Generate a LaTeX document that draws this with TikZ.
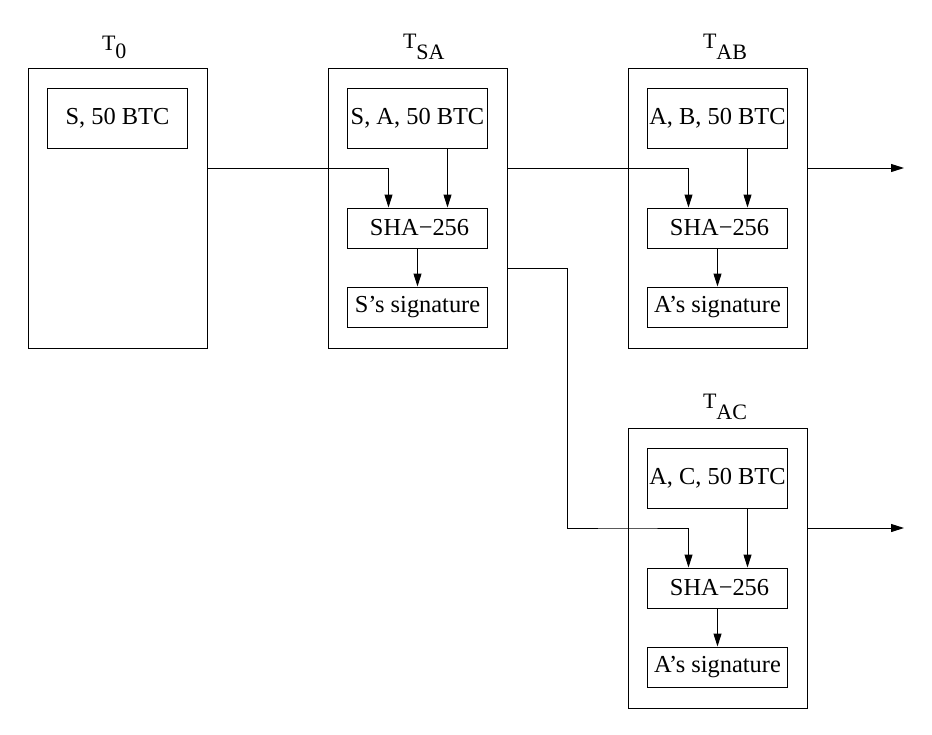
\documentclass[tikz,border=0pt]{standalone}
\usepackage{fontspec}
\setmainfont{Liberation Serif}
\usepackage{tikz}
\usetikzlibrary{arrows.meta,positioning}

\newcommand{\tname}[2][5.5pt]{\raisebox{#1}{\fontsize{11}{12}\selectfont T}{\fontsize{11}{12}\selectfont #2}}

\begin{document}
\begin{tikzpicture}[x=0.5pt, y=-0.5pt, node distance=1cm, on grid,
                    >={Triangle[length=6.5pt, width=4pt]},
                    every path/.style = {line width=0.5pt},
                    tx box/.style = {rectangle, draw=black, line width=0.5pt, minimum width=89.5pt, minimum height=140pt},
                    inner box/.style = {rectangle, draw=black, line width=0.5pt, inner sep=0.5pt, minimum width=70pt, font=\fontsize{12.2}{14}\selectfont},
                    coin box/.style = {inner box, minimum height=30pt},
                    hash box/.style = {inner box, minimum height=20pt},
                    tx name/.style = {anchor=base west, inner sep=0pt}]
                \useasboundingbox (0,0) rectangle (932,734);
                % genesis left
                \node at (117.5,208) [tx box] (t0) {};
                \node [tx name] at ([xshift=-8pt, yshift=4.5pt]t0.north) (t0name) {\tname[4.2pt]{0}};
                \node [coin box] at ([yshift=45pt]t0.center) (coin0) {S, 50 BTC};
                % S to A
                \node at (417.5,208) [tx box] (tsa) {};
                \node [tx name] at ([xshift=-7.5pt, yshift=4pt]tsa.north) (tsaname) {\tname{SA}};
                \node [coin box] at ([yshift=45pt]tsa.center) (coinsa) {S, A, 50 BTC};
                \node [hash box, below=55pt of coinsa] (hashsa) {\,SHA−256};
                \node [hash box, below=39.5pt of hashsa] (sigsa) {S’s signature};
                % A to B
                \node at (717.5,208) [tx box] (tab) {};
                \node [tx name] at ([xshift=-7.5pt, yshift=4pt]tab.north) (tabname) {\tname{AB}};
                \node [coin box] at ([yshift=45pt]tab.center) (coinab) {A, B, 50 BTC};
                \node [hash box, below=55pt of coinab] (hashab) {\,SHA−256};
                \node [hash box, below=39.5pt of hashab] (sigab) {A’s signature};
                % A to C, below
                \node at (717.5,568) [tx box] (tac) {};
                \node [tx name] at ([xshift=-7.5pt, yshift=4pt]tac.north) (tacname) {\tname{AC}};
                \node [coin box] at ([yshift=45pt]tac.center) (coinac) {A, C, 50 BTC};
                \node [hash box, below=55pt of coinac] (hashac) {\,SHA−256};
                \node [hash box, below=39.5pt of hashac] (sigac) {A’s signature};
                % free ends
                \coordinate (outab) at (904,168);
                \coordinate (outac) at (904,528);
                % connections
                \draw[->] ([yshift=20pt]t0.east) -| ([xshift=-14.5pt]hashsa.north);
                \draw[->] ([xshift=15pt]coinsa.south) -- ([xshift=15pt]hashsa.north);
                \draw[->] (hashsa) -- (sigsa);
                \draw[->] ([yshift=20pt]tsa.east) -| ([xshift=-14.5pt]hashab.north);
                \draw[->] ([xshift=15pt]coinab.south) -- ([xshift=15pt]hashab.north);
                \draw[->] (hashab) -- (sigab);
                \draw[->] ([yshift=-30pt]tsa.east) -- ++(30pt,0) |- ([yshift=20pt]tac.west) -| ([xshift=-14.5pt]hashac.north);
                \draw[->] ([xshift=15pt]coinac.south) -- ([xshift=15pt]hashac.north);
                \draw[->] (hashac) -- (sigac);
                \draw[->] ([yshift=20pt]tab.east) -- (outab);
                \draw[->] ([yshift=20pt]tac.east) -- (outac);
            \end{tikzpicture}
\end{document}
